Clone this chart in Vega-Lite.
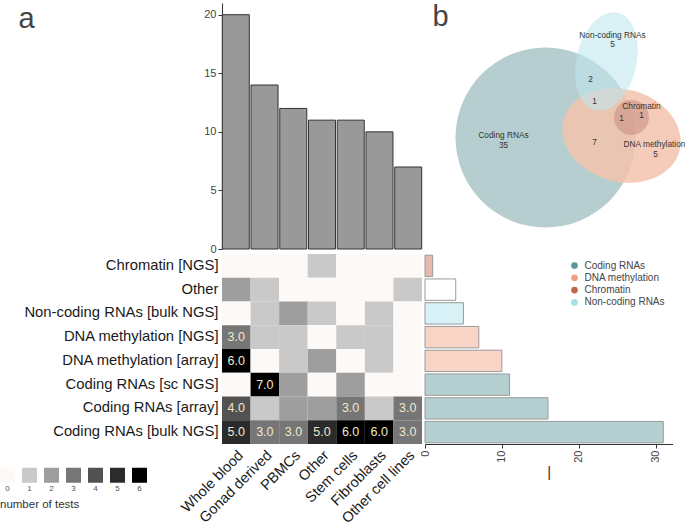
{
  "$schema": "https://vega.github.io/schema/vega-lite/v6.json",
  "padding": {"left": 0, "top": 2, "right": 0, "bottom": 0},
  "background": "white",
  "config": {
    "font": "Liberation Sans",
    "view": {"stroke": null},
    "axis": {"labelFont": "Liberation Sans", "titleFont": "Liberation Sans"},
    "legend": {"labelFont": "Liberation Sans", "titleFont": "Liberation Sans"},
    "title": {"font": "Liberation Sans"}
  },
  "datasets": {
    "tissues": [
      {"tissue": "Whole blood", "tests": 20},
      {"tissue": "Gonad derived", "tests": 14},
      {"tissue": "PBMCs", "tests": 12},
      {"tissue": "Other", "tests": 11},
      {"tissue": "Stem cells", "tests": 11},
      {"tissue": "Fibroblasts", "tests": 10},
      {"tissue": "Other cell lines", "tests": 7}
    ],
    "assays": [
      {"assay": "Chromatin [NGS]", "set": "Chromatin", "tests": 1},
      {"assay": "Other", "set": "Other", "tests": 4},
      {"assay": "Non-coding RNAs [bulk NGS]", "set": "Non-coding RNAs", "tests": 5},
      {"assay": "DNA methylation [NGS]", "set": "DNA methylation", "tests": 7},
      {"assay": "DNA methylation [array]", "set": "DNA methylation", "tests": 10},
      {"assay": "Coding RNAs [sc NGS]", "set": "Coding RNAs", "tests": 11},
      {"assay": "Coding RNAs [array]", "set": "Coding RNAs", "tests": 16},
      {"assay": "Coding RNAs [bulk NGS]", "set": "Coding RNAs", "tests": 31}
    ],
    "cells": [
      {"assay": "Chromatin [NGS]", "tissue": "Whole blood", "n": 0},
      {"assay": "Chromatin [NGS]", "tissue": "Gonad derived", "n": 0},
      {"assay": "Chromatin [NGS]", "tissue": "PBMCs", "n": 0},
      {"assay": "Chromatin [NGS]", "tissue": "Other", "n": 1},
      {"assay": "Chromatin [NGS]", "tissue": "Stem cells", "n": 0},
      {"assay": "Chromatin [NGS]", "tissue": "Fibroblasts", "n": 0},
      {"assay": "Chromatin [NGS]", "tissue": "Other cell lines", "n": 0},
      {"assay": "Other", "tissue": "Whole blood", "n": 2},
      {"assay": "Other", "tissue": "Gonad derived", "n": 1},
      {"assay": "Other", "tissue": "PBMCs", "n": 0},
      {"assay": "Other", "tissue": "Other", "n": 0},
      {"assay": "Other", "tissue": "Stem cells", "n": 0},
      {"assay": "Other", "tissue": "Fibroblasts", "n": 0},
      {"assay": "Other", "tissue": "Other cell lines", "n": 1},
      {"assay": "Non-coding RNAs [bulk NGS]", "tissue": "Whole blood", "n": 0},
      {"assay": "Non-coding RNAs [bulk NGS]", "tissue": "Gonad derived", "n": 1},
      {"assay": "Non-coding RNAs [bulk NGS]", "tissue": "PBMCs", "n": 2},
      {"assay": "Non-coding RNAs [bulk NGS]", "tissue": "Other", "n": 1},
      {"assay": "Non-coding RNAs [bulk NGS]", "tissue": "Stem cells", "n": 0},
      {"assay": "Non-coding RNAs [bulk NGS]", "tissue": "Fibroblasts", "n": 1},
      {"assay": "Non-coding RNAs [bulk NGS]", "tissue": "Other cell lines", "n": 0},
      {"assay": "DNA methylation [NGS]", "tissue": "Whole blood", "n": 3},
      {"assay": "DNA methylation [NGS]", "tissue": "Gonad derived", "n": 1},
      {"assay": "DNA methylation [NGS]", "tissue": "PBMCs", "n": 1},
      {"assay": "DNA methylation [NGS]", "tissue": "Other", "n": 0},
      {"assay": "DNA methylation [NGS]", "tissue": "Stem cells", "n": 1},
      {"assay": "DNA methylation [NGS]", "tissue": "Fibroblasts", "n": 1},
      {"assay": "DNA methylation [NGS]", "tissue": "Other cell lines", "n": 0},
      {"assay": "DNA methylation [array]", "tissue": "Whole blood", "n": 6},
      {"assay": "DNA methylation [array]", "tissue": "Gonad derived", "n": 0},
      {"assay": "DNA methylation [array]", "tissue": "PBMCs", "n": 1},
      {"assay": "DNA methylation [array]", "tissue": "Other", "n": 2},
      {"assay": "DNA methylation [array]", "tissue": "Stem cells", "n": 0},
      {"assay": "DNA methylation [array]", "tissue": "Fibroblasts", "n": 1},
      {"assay": "DNA methylation [array]", "tissue": "Other cell lines", "n": 0},
      {"assay": "Coding RNAs [sc NGS]", "tissue": "Whole blood", "n": 0},
      {"assay": "Coding RNAs [sc NGS]", "tissue": "Gonad derived", "n": 7},
      {"assay": "Coding RNAs [sc NGS]", "tissue": "PBMCs", "n": 2},
      {"assay": "Coding RNAs [sc NGS]", "tissue": "Other", "n": 0},
      {"assay": "Coding RNAs [sc NGS]", "tissue": "Stem cells", "n": 2},
      {"assay": "Coding RNAs [sc NGS]", "tissue": "Fibroblasts", "n": 0},
      {"assay": "Coding RNAs [sc NGS]", "tissue": "Other cell lines", "n": 0},
      {"assay": "Coding RNAs [array]", "tissue": "Whole blood", "n": 4},
      {"assay": "Coding RNAs [array]", "tissue": "Gonad derived", "n": 1},
      {"assay": "Coding RNAs [array]", "tissue": "PBMCs", "n": 2},
      {"assay": "Coding RNAs [array]", "tissue": "Other", "n": 2},
      {"assay": "Coding RNAs [array]", "tissue": "Stem cells", "n": 3},
      {"assay": "Coding RNAs [array]", "tissue": "Fibroblasts", "n": 1},
      {"assay": "Coding RNAs [array]", "tissue": "Other cell lines", "n": 3},
      {"assay": "Coding RNAs [bulk NGS]", "tissue": "Whole blood", "n": 5},
      {"assay": "Coding RNAs [bulk NGS]", "tissue": "Gonad derived", "n": 3},
      {"assay": "Coding RNAs [bulk NGS]", "tissue": "PBMCs", "n": 3},
      {"assay": "Coding RNAs [bulk NGS]", "tissue": "Other", "n": 5},
      {"assay": "Coding RNAs [bulk NGS]", "tissue": "Stem cells", "n": 6},
      {"assay": "Coding RNAs [bulk NGS]", "tissue": "Fibroblasts", "n": 6},
      {"assay": "Coding RNAs [bulk NGS]", "tissue": "Other cell lines", "n": 3}
    ],
    "venn": [
      {"set": "Coding RNAs", "x": 120.5, "y": 134.5},
      {"set": "DNA methylation", "x": 196.5, "y": 132.5},
      {"set": "Non-coding RNAs", "x": 181.5, "y": 58.5},
      {"set": "Chromatin", "x": 206.5, "y": 114.5}
    ],
    "vennText": [
      {"label": "Non-coding RNAs", "x": 187.5, "y": 32.5},
      {"label": "5", "x": 187.5, "y": 42},
      {"label": "2", "x": 165.5, "y": 76.5},
      {"label": "1", "x": 169.5, "y": 98.5},
      {"label": "Chromatin", "x": 216.5, "y": 103.5},
      {"label": "1", "x": 216.5, "y": 112.5},
      {"label": "1", "x": 196.5, "y": 115.5},
      {"label": "Coding RNAs", "x": 78.5, "y": 132.5},
      {"label": "35", "x": 78.5, "y": 142.5},
      {"label": "7", "x": 169.5, "y": 139.5},
      {"label": "DNA methylation", "x": 229.5, "y": 141.5},
      {"label": "5", "x": 230.5, "y": 151.5}
    ]
  },
  "concat": [
    {
      "width": 200,
      "height": 246,
      "data": {"name": "tissues"},
      "mark": {"type": "bar", "fill": "#999999", "stroke": "#333333", "strokeWidth": 1},
      "encoding": {
        "x": {"field": "tissue", "type": "nominal", "sort": ["Whole blood", "Gonad derived", "PBMCs", "Other", "Stem cells", "Fibroblasts", "Other cell lines"], "scale": {"paddingInner": 0.06, "paddingOuter": 0.01}, "axis": null},
        "y": {"field": "tests", "type": "quantitative", "scale": {"domain": [0, 21], "nice": false}, "axis": {"values": [0, 5, 10, 15, 20], "title": "a", "titleAngle": 0, "titleX": -204, "titleY": 24, "titleAlign": "left", "titleBaseline": "alphabetic", "titleFontSize": 29, "titleFontWeight": "normal", "titleColor": "#444444", "grid": false, "labelFontSize": 11, "labelColor": "#444444", "tickColor": "#333333", "domainColor": "#333333", "tickSize": 4, "labelPadding": 2}}
      }
    },
    {
      "width": 247,
      "height": 246,
      "data": {"name": "venn"},
      "layer": [
        {
          "transform": [{"filter": "datum.set === 'Coding RNAs'"}],
          "mark": {"type": "point", "shape": "circle", "filled": true, "size": 32400, "fill": "#b6cecf", "opacity": 1, "fillOpacity": 1, "strokeWidth": 0},
          "encoding": {
            "x": {"field": "x", "type": "quantitative", "scale": {"domain": [0, 247], "nice": false, "zero": false}, "axis": {"orient": "top", "values": [], "labels": false, "ticks": false, "domain": false, "grid": false, "title": "b", "titleAngle": 0, "titleX": 7, "titleY": 22.5, "titleAlign": "left", "titleBaseline": "alphabetic", "titleFontSize": 29, "titleFontWeight": "normal", "titleColor": "#444444"}},
            "y": {"field": "y", "type": "quantitative", "scale": {"domain": [0, 246], "nice": false, "zero": false, "reverse": true}, "axis": null}
          }
        },
        {
          "transform": [{"filter": "datum.set === 'DNA methylation'"}],
          "mark": {"type": "point", "shape": "M -1 0 A 1 0.77 0 1 1 1 0 A 1 0.77 0 1 1 -1 0 Z", "filled": true, "size": 14400, "angle": 15, "fill": "#f2c3ad", "opacity": 1, "fillOpacity": 0.85, "strokeWidth": 0},
          "encoding": {
            "x": {"field": "x", "type": "quantitative"},
            "y": {"field": "y", "type": "quantitative"}
          }
        },
        {
          "transform": [{"filter": "datum.set === 'Non-coding RNAs'"}],
          "mark": {"type": "point", "shape": "M 0 -1 A 0.6 1 0 1 1 0 1 A 0.6 1 0 1 1 0 -1 Z", "filled": true, "size": 10000, "angle": 13, "fill": "#bfe6ee", "opacity": 1, "fillOpacity": 0.6, "strokeWidth": 0},
          "encoding": {
            "x": {"field": "x", "type": "quantitative"},
            "y": {"field": "y", "type": "quantitative"}
          }
        },
        {
          "transform": [{"filter": "datum.set === 'Chromatin'"}],
          "mark": {"type": "point", "shape": "circle", "filled": true, "size": 1225, "fill": "#c98a7f", "opacity": 1, "fillOpacity": 0.55, "strokeWidth": 0},
          "encoding": {
            "x": {"field": "x", "type": "quantitative"},
            "y": {"field": "y", "type": "quantitative"}
          }
        },
        {
          "data": {"name": "vennText"},
          "mark": {"type": "text", "fontSize": 8.3, "color": "#333333", "align": "center", "baseline": "middle"},
          "encoding": {
            "x": {"field": "x", "type": "quantitative"},
            "y": {"field": "y", "type": "quantitative"},
            "text": {"field": "label", "type": "nominal"}
          }
        }
      ]
    },
    {
      "width": 200,
      "height": 190,
      "data": {"name": "cells"},
      "layer": [
        {
          "mark": {"type": "rect", "strokeWidth": 0},
          "encoding": {
            "x": {"field": "tissue", "type": "nominal", "sort": ["Whole blood", "Gonad derived", "PBMCs", "Other", "Stem cells", "Fibroblasts", "Other cell lines"], "scale": {"paddingInner": 0, "paddingOuter": 0}, "axis": {"title": null, "labelAngle": -45, "labelFontSize": 14.5, "labelColor": "#1a1a1a", "ticks": false, "domain": false, "labelPadding": 4, "labelLimit": 0}},
            "y": {"field": "assay", "type": "nominal", "sort": ["Chromatin [NGS]", "Other", "Non-coding RNAs [bulk NGS]", "DNA methylation [NGS]", "DNA methylation [array]", "Coding RNAs [sc NGS]", "Coding RNAs [array]", "Coding RNAs [bulk NGS]"], "scale": {"paddingInner": 0, "paddingOuter": 0}, "axis": {"title": null, "labelFontSize": 14.8, "labelColor": "#1a1a1a", "ticks": false, "domain": false, "labelPadding": 4, "labelLimit": 0}},
            "color": {"field": "n", "type": "ordinal", "scale": {"domain": [0, 1, 2, 3, 4, 5, 6, 7], "range": ["#fdf9f7", "#c9c9c9", "#9e9e9e", "#767676", "#525252", "#2b2b2b", "#000000", "#000000"]}, "legend": {"orient": "none", "legendX": -222, "legendY": 464.5, "direction": "horizontal", "title": "number of tests", "titleOrient": "bottom", "titleAnchor": "start", "titleFontSize": 11.5, "titleFontWeight": "normal", "titleColor": "#333333", "titlePadding": 5, "values": [0, 1, 2, 3, 4, 5, 6], "symbolType": "square", "symbolSize": 225, "symbolStrokeWidth": 0, "symbolOpacity": 1, "labelAlign": "center", "labelOffset": -7.5, "labelBaseline": "top", "labelExpr": "['', datum.label]", "labelFontSize": 8, "labelColor": "#555555", "columnPadding": 7, "padding": 0}}
          }
        },
        {
          "transform": [{"filter": "datum.n >= 3"}],
          "mark": {"type": "text", "fontSize": 12.5, "color": "#efe8cc", "align": "center", "baseline": "middle"},
          "encoding": {
            "x": {"field": "tissue", "type": "nominal", "sort": ["Whole blood", "Gonad derived", "PBMCs", "Other", "Stem cells", "Fibroblasts", "Other cell lines"]},
            "y": {"field": "assay", "type": "nominal", "sort": ["Chromatin [NGS]", "Other", "Non-coding RNAs [bulk NGS]", "DNA methylation [NGS]", "DNA methylation [array]", "Coding RNAs [sc NGS]", "Coding RNAs [array]", "Coding RNAs [bulk NGS]"]},
            "text": {"field": "n", "type": "quantitative", "format": ".1f"}
          }
        }
      ]
    },
    {
      "width": 247.5,
      "height": 190,
      "data": {"name": "assays"},
      "mark": {"type": "bar", "stroke": "#999999", "strokeWidth": 1, "fillOpacity": 0.45},
      "encoding": {
        "y": {"field": "assay", "type": "nominal", "sort": ["Chromatin [NGS]", "Other", "Non-coding RNAs [bulk NGS]", "DNA methylation [NGS]", "DNA methylation [array]", "Coding RNAs [sc NGS]", "Coding RNAs [array]", "Coding RNAs [bulk NGS]"], "scale": {"paddingInner": 0.1, "paddingOuter": 0.05}, "axis": null},
        "x": {"field": "tests", "type": "quantitative", "scale": {"domain": [0, 32.2], "nice": false}, "axis": {"values": [0, 10, 20, 30], "labelAngle": -90, "title": "|", "titleFontSize": 15, "titleFontWeight": "normal", "titleColor": "#333333", "titlePadding": 2, "labelFontSize": 11, "labelColor": "#444444", "tickSize": 4, "tickColor": "#333333", "domainColor": "#333333", "grid": false}},
        "fill": {"field": "set", "type": "nominal", "scale": {"domain": ["Coding RNAs", "DNA methylation", "Chromatin", "Non-coding RNAs", "Other"], "range": ["#5c9699", "#f0a080", "#c0674a", "#a6e0ea", "#ffffff"]}, "legend": {"orient": "none", "legendX": 347.5, "legendY": 257.5, "values": ["Coding RNAs", "DNA methylation", "Chromatin", "Non-coding RNAs"], "title": null, "symbolType": "circle", "symbolSize": 45, "symbolStrokeWidth": 0, "symbolOpacity": 1, "labelFontSize": 10, "labelColor": "#444444", "rowPadding": 2.3, "labelOffset": 5, "padding": 0}}
      }
    }
  ],
  "columns": 2,
  "align": "each",
  "spacing": {"row": -2.7, "column": -4}
}
